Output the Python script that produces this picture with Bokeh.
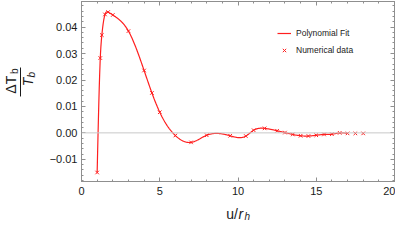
import numpy as np
from bokeh.plotting import figure
from bokeh.models import (Range1d, Span, Legend, LegendItem, LinearAxis, FixedTicker)
from bokeh.layouts import column, row
from bokeh.core.properties import value
from bokeh.embed import file_html
from bokeh.resources import INLINE

# ---- data ----
u_data = [1.0, 1.2, 1.3, 1.5, 1.7, 2.0, 3.0, 4.0, 4.5, 5.0, 6.0, 7.0, 8.0, 9.5,
          10.5, 11.0, 11.7, 12.5, 13.0, 13.5, 14.0, 14.5, 15.0, 15.5, 16.0,
          16.5, 17.0, 17.5, 18.0]
dT_data = [-0.0150, 0.0283, 0.0370, 0.0448, 0.0457, 0.0446, 0.0385, 0.0236,
           0.0151, 0.0078, -0.0010, -0.0036, -0.0009, -0.0011, -0.0012, 0.0010,
           0.0017, 0.0008, 0.0001, -0.0006, -0.0011, -0.0012, -0.0009, -0.0006,
           -0.0005, 0.0000, -0.0002, -0.0002, -0.0002]
fit_max_u = 17.0
x_ticks = [0, 5, 10, 15, 20]
y_ticks = [-0.01, 0.0, 0.01, 0.02, 0.03, 0.04]
y_tick_labels = {-0.01: "\u22120.01", 0.0: "0.00", 0.01: "0.01", 0.02: "0.02",
                 0.03: "0.03", 0.04: "0.04"}
legend_labels = ["Polynomial Fit", "Numerical data"]
x_title = ["u/", "r", "h"]
y_title = ["\u0394T", "b", "T", "b"]


def natural_spline(x, y, xs):
    x = np.asarray(x, float); y = np.asarray(y, float)
    n = len(x); h = np.diff(x)
    A = np.zeros((n, n)); r = np.zeros(n)
    A[0, 0] = 1.0; A[-1, -1] = 1.0
    for i in range(1, n - 1):
        A[i, i - 1] = h[i - 1]
        A[i, i] = 2 * (h[i - 1] + h[i])
        A[i, i + 1] = h[i]
        r[i] = 6 * ((y[i + 1] - y[i]) / h[i] - (y[i] - y[i - 1]) / h[i - 1])
    M = np.linalg.solve(A, r)
    idx = np.clip(np.searchsorted(x, xs) - 1, 0, n - 2)
    x0 = x[idx]; x1 = x[idx + 1]; hh = x1 - x0
    a = (x1 - xs) / hh; b = (xs - x0) / hh
    return (a * y[idx] + b * y[idx + 1]
            + ((a ** 3 - a) * M[idx] + (b ** 3 - b) * M[idx + 1]) * hh ** 2 / 6)


uf = np.array([u for u in u_data if u <= fit_max_u])
df = np.array([d for u, d in zip(u_data, dT_data) if u <= fit_max_u])
u_fit = np.linspace(uf[0], uf[-1], 600)
dT_fit = natural_spline(uf, df, u_fit)

RED = "#ff1f1f"
FRAME = "#8f8f8f"
TXT = "#1a1a1a"
FONT = "Liberation Sans"

# ---------------- main plot ----------------
MAIN_W, MAIN_H = 355, 199
p = figure(width=MAIN_W, height=MAIN_H, output_backend="svg", toolbar_location=None,
           x_range=Range1d(0, 20), y_range=Range1d(-0.0184, 0.0497),
           min_border_left=41, min_border_right=1, min_border_top=1,
           min_border_bottom=18)
p.grid.visible = False
p.outline_line_color = FRAME
p.border_fill_color = "white"

p.add_layout(Span(location=0, dimension="width", line_color="#c8c8c8", line_width=1))

r_line = p.line(u_fit, dT_fit, line_color=RED, line_width=1.2)
r_pts = p.scatter(u_data, dT_data, marker="x", size=5, line_color=RED, line_width=1)

x_minor = list(np.arange(0, 20.01, 1.0))
y_minor = list(np.round(np.arange(-0.018, 0.0495, 0.002), 4))


def style_axis(ax, labels=True):
    ax.axis_line_color = FRAME
    ax.major_tick_line_color = FRAME
    ax.minor_tick_line_color = FRAME
    ax.major_tick_in = 4
    ax.major_tick_out = 0
    ax.minor_tick_in = 2
    ax.minor_tick_out = 0
    ax.major_label_text_font = FONT
    ax.major_label_text_font_size = "11px"
    ax.major_label_text_color = TXT
    if not labels:
        ax.major_label_standoff = 0
        ax.major_label_text_font_size = "1px"


p.xaxis.ticker = FixedTicker(ticks=x_ticks, minor_ticks=x_minor)
p.yaxis.ticker = FixedTicker(ticks=y_ticks, minor_ticks=y_minor)
p.yaxis.major_label_overrides = y_tick_labels
p.xaxis.major_label_standoff = 5
p.yaxis.major_label_standoff = 4
style_axis(p.xaxis[0]); style_axis(p.yaxis[0])

ax_r = LinearAxis(ticker=FixedTicker(ticks=y_ticks, minor_ticks=y_minor),
                  major_label_overrides={t: "" for t in y_ticks})
ax_t = LinearAxis(ticker=FixedTicker(ticks=x_ticks, minor_ticks=x_minor),
                  major_label_overrides={t: "" for t in x_ticks})
style_axis(ax_r, labels=False); style_axis(ax_t, labels=False)
p.add_layout(ax_r, "right")
p.add_layout(ax_t, "above")

legend = Legend(items=[LegendItem(label=legend_labels[0], renderers=[r_line]),
                       LegendItem(label=legend_labels[1], renderers=[r_pts])],
                location=(196, 125), border_line_alpha=0, background_fill_alpha=0,
                label_text_font=FONT, label_text_font_size="8.5px",
                label_text_color=TXT, label_height=12,
                glyph_width=14, glyph_height=12, label_standoff=5, spacing=5,
                padding=0, margin=0)
p.add_layout(legend)

# ---------------- y title (left strip, pixel coordinates) ----------------
LW = 40
pl = figure(width=LW, height=MAIN_H, output_backend="svg", toolbar_location=None,
            x_range=Range1d(0, LW), y_range=Range1d(0, MAIN_H),
            min_border=0, outline_line_color=None)
pl.axis.visible = False
pl.grid.visible = False
cy = MAIN_H - 89          # vertical centre of the frame (pixels from bottom)
pl.text(x=[10, 14], y=[cy - 3, cy + 12], text=y_title[0:2], angle=np.pi / 2,
        text_font=value(FONT), text_font_size=["14px", "10px"],
        text_align="center", text_baseline="middle", text_color=TXT)
pl.text(x=[27, 31], y=[cy, cy + 8], text=y_title[2:4], angle=np.pi / 2,
        text_font=value(FONT), text_font_style="italic",
        text_font_size=["14px", "10px"],
        text_align="center", text_baseline="middle", text_color=TXT)
pl.segment(x0=[20], y0=[cy - 16], x1=[20], y1=[cy + 16], line_color=TXT, line_width=1)

# ---------------- x title (bottom strip, pixel coordinates) ----------------
BW, BH = LW + MAIN_W, 22
pb = figure(width=BW, height=BH, output_backend="svg", toolbar_location=None,
            x_range=Range1d(0, BW), y_range=Range1d(0, BH),
            min_border=0, outline_line_color=None)
pb.axis.visible = False
pb.grid.visible = False
xc = 237.5
pb.text(x=[xc], y=[8], text=[x_title[0]], text_font=value(FONT), text_font_size="14px",
        text_align="right", text_baseline="alphabetic", text_color=TXT)
pb.text(x=[xc + 0.5, xc + 6.5], y=[8, 5.5], text=x_title[1:3], text_font=value(FONT),
        text_font_style="italic", text_font_size=["14px", "10px"],
        text_align="left", text_baseline="alphabetic", text_color=TXT)

layout = column(row(pl, p, spacing=0), pb, spacing=0)
open("out.html", "w").write(file_html(layout, INLINE))
